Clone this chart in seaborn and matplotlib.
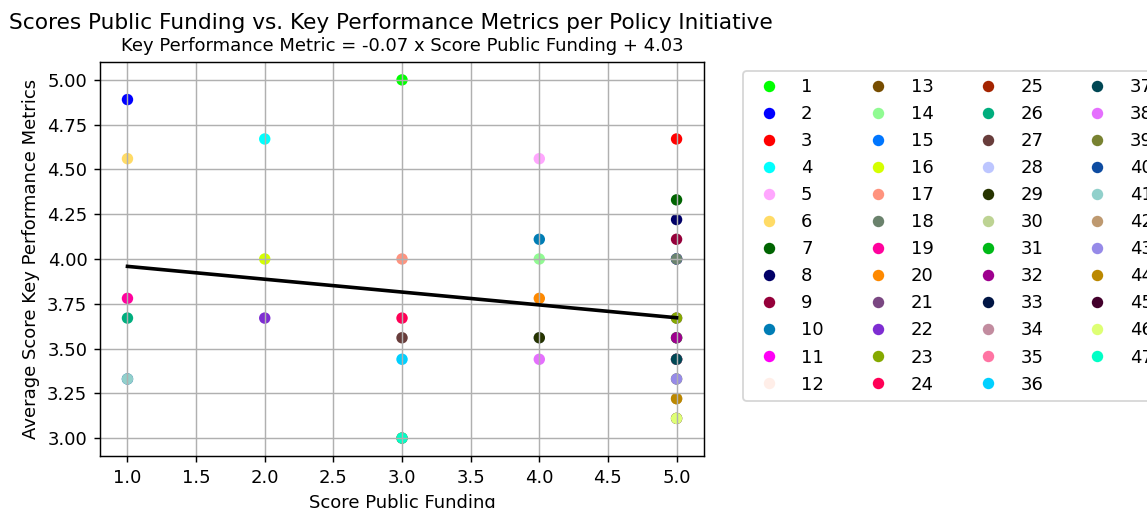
#!/usr/bin/env python3
"""
Scatter of public funding score vs. average key performance metric
per policy initiative, with a linear fit in the subtitle.
"""

import numpy as np
import pandas as pd
import matplotlib

matplotlib.use("Agg")
import matplotlib.pyplot as plt
import seaborn as sns

# Policy initiative ids (legend labels)
initiatives = [str(i) for i in range(1, 48)]

# Score public funding per initiative
funding_scores = [
    3, 1, 5, 2, 4, 1, 5, 5, 5, 4,
    5, 5, 5, 4, 5, 2, 3, 5, 1, 4,
    5, 2, 5, 3, 3, 1, 3, 4, 4, 5,
    5, 5, 5, 5, 5, 3, 5, 4, 5, 1,
    1, 5, 5, 5, 5, 5, 3,
]

# Average score of the key performance metrics per initiative
kpm_scores = [
    5.00, 4.89, 4.67, 4.67, 4.56, 4.56, 4.33, 4.22, 4.11, 4.11,
    4.00, 3.44, 4.00, 4.00, 4.00, 4.00, 4.00, 4.00, 3.78, 3.78,
    3.67, 3.67, 3.67, 3.67, 3.00, 3.67, 3.56, 3.56, 3.56, 3.56,
    3.56, 3.56, 3.44, 3.44, 3.44, 3.44, 3.44, 3.44, 3.33, 3.33,
    3.33, 3.22, 3.33, 3.22, 3.11, 3.11, 3.00,
]

# One distinct colour per initiative
colors = [
    "#00FF00", "#0000FF", "#FF0000", "#01FFFE", "#FFA6FE", "#FFDB66",
    "#006401", "#010067", "#95003A", "#007DB5", "#FF00F6", "#FFEEE8",
    "#774D00", "#90FB92", "#0076FF", "#D5FF00", "#FF937E", "#6A826C",
    "#FF029D", "#FE8900", "#7A4782", "#7E2DD2", "#85A900", "#FF0056",
    "#A42400", "#00AE7E", "#683D3B", "#BDC6FF", "#263400", "#BDD393",
    "#00B917", "#9E008E", "#001544", "#C28C9F", "#FF74A3", "#01D0FF",
    "#004754", "#E56FFE", "#788231", "#0E4CA1", "#91D0CB", "#BE9970",
    "#968AE8", "#BB8800", "#43002C", "#DEFF74", "#00FFC6",
]


def main():
    df = pd.DataFrame(
        {
            "initiative": initiatives,
            "funding": funding_scores,
            "kpm": kpm_scores,
        }
    )

    slope, intercept = np.polyfit(df["funding"], df["kpm"], 1)

    dpi = 130
    fig = plt.figure(figsize=(1147 / dpi, 508 / dpi), dpi=dpi)
    ax = fig.add_axes([0.0872, 0.1024, 0.5266, 0.7756])

    sns.scatterplot(
        data=df,
        x="funding",
        y="kpm",
        hue="initiative",
        hue_order=initiatives,
        palette=colors,
        s=40,
        linewidth=0,
        zorder=1,
        ax=ax,
    )

    xs = np.array([df["funding"].min(), df["funding"].max()])
    ax.plot(xs, slope * xs + intercept, color="black", linewidth=2)

    ax.grid(True)
    ax.set_xlabel("Score Public Funding")
    ax.set_ylabel("Average Score Key Performance Metrics")
    ax.set_title(
        f"Key Performance Metric = {slope:.2f} x Score Public Funding + {intercept:.2f}",
        fontsize=10,
    )
    fig.suptitle(
        "Scores Public Funding vs. Key Performance Metrics per Policy Initiative",
        x=0.341,
        y=0.943,
        va="baseline",
        fontsize=12,
    )

    handles, labels = ax.get_legend_handles_labels()
    ax.legend(
        handles,
        labels,
        ncol=4,
        bbox_to_anchor=(1.05, 1),
        loc="upper left",
    )

    fig.savefig("out.png", dpi=dpi, facecolor="white")
    plt.close(fig)


if __name__ == "__main__":
    main()
